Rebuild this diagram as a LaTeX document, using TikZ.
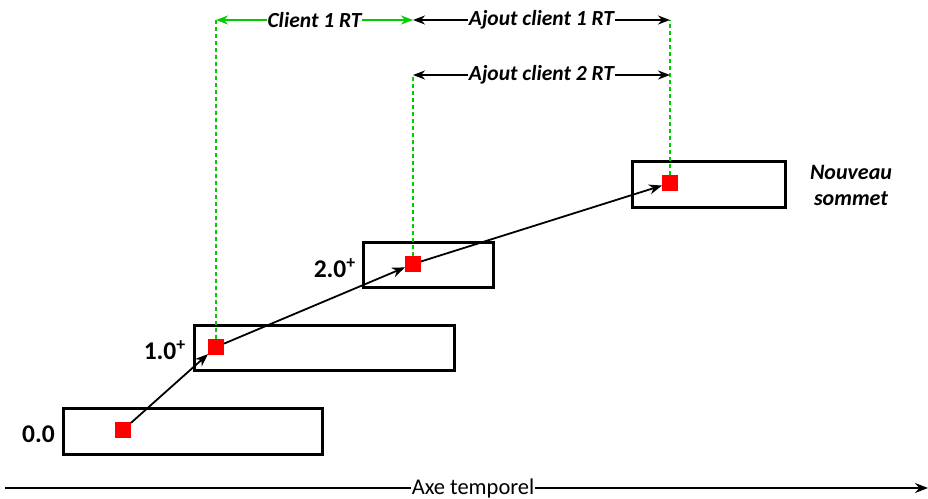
\documentclass[tikz,border=0pt]{standalone}
\usepackage{fontspec}
\setmainfont{Carlito}
\usetikzlibrary{arrows.meta}
\definecolor{dgreen}{RGB}{0,204,0}
\definecolor{sqred}{RGB}{255,0,0}
\begin{document}
\begin{tikzpicture}[x=1pt,y=-1pt,
  box/.style={draw, line width=2.6pt, anchor=north west, inner sep=0pt},
  sq/.style={fill=sqred, minimum size=16pt, inner sep=0pt, outer sep=0pt, draw=none},
  link/.style={line width=1.8pt, -{Stealth[length=13pt,width=10pt]}},
  gdash/.style={dgreen, line width=2pt, dash pattern=on 4pt off 3pt},
  dimg/.style={dgreen, line width=1.8pt, {Stealth[length=12pt,width=9pt]}-{Stealth[length=12pt,width=9pt]}},
  dimk/.style={black, line width=1.8pt, {Stealth[length=12pt,width=9pt]}-{Stealth[length=12pt,width=9pt]}},
  dimlbl/.style={fill=white, text=black, font=\fontsize{21.5}{24}\selectfont\bfseries\itshape, inner sep=1pt},
  lvl/.style={font=\fontsize{25.5}{28}\selectfont\bfseries, anchor=east, inner sep=0pt},
  ]
\useasboundingbox (0,0) rectangle (928,498);
% boxes
\node[box, minimum width=259pt, minimum height=46pt] (b0) at (62,407) {};
\node[box, minimum width=260pt, minimum height=45pt] (b1) at (193,324) {};
\node[box, minimum width=130pt, minimum height=45pt] (b2) at (362,241) {};
\node[box, minimum width=153pt, minimum height=46pt] (b3) at (631,160) {};
% squares
\node[sq] (s0) at (123,430) {};
\node[sq] (s1) at (216,347) {};
\node[sq] (s2) at (413,264) {};
\node[sq] (s3) at (670,183) {};
% links
\draw[link] (s0) -- (s1);
\draw[link] (s1) -- (s2);
\draw[link] (s2) -- (s3);
% dashed verticals
\coordinate (t1) at (216,20);
\coordinate (t2) at (413,20);
\coordinate (t3) at (670,20);
\coordinate (u2) at (413,75);
\coordinate (u3) at (670,75);
\draw[gdash] (s1.north) -- (t1);
\draw[gdash] (s2.north) -- (u2);
\draw[gdash] (s3.north) -- (t3);
% dimension arrows
\draw[dimg] (t1) -- node[dimlbl] (l1) {Client 1 RT} (t2);
\draw[dimk] (t2) -- node[dimlbl] (l2) {Ajout client 1 RT} (t3);
\draw[dimk] (u2) -- node[dimlbl] (l3) {Ajout client 2 RT} (u3);
% level labels
\node[lvl] (n0) at (55,434) {0.0};
\node[lvl] (n1) at (186,350) {1.0\textsuperscript{+}};
\node[lvl] (n2) at (356,268) {2.0\textsuperscript{+}};
\node[font=\fontsize{22}{26}\selectfont\bfseries\itshape, align=center] (nv) at (851,185) {Nouveau\\sommet};
% axis
\coordinate (a0) at (5,488);
\coordinate (a1) at (928,488);
\draw[line width=2pt, -{Stealth[length=13pt,width=10pt]}] (a0) -- (a1);
\node[fill=white, font=\fontsize{22.5}{24}\selectfont, inner sep=1pt] (ax) at (473,488) {Axe temporel};
\end{tikzpicture}
\end{document}
